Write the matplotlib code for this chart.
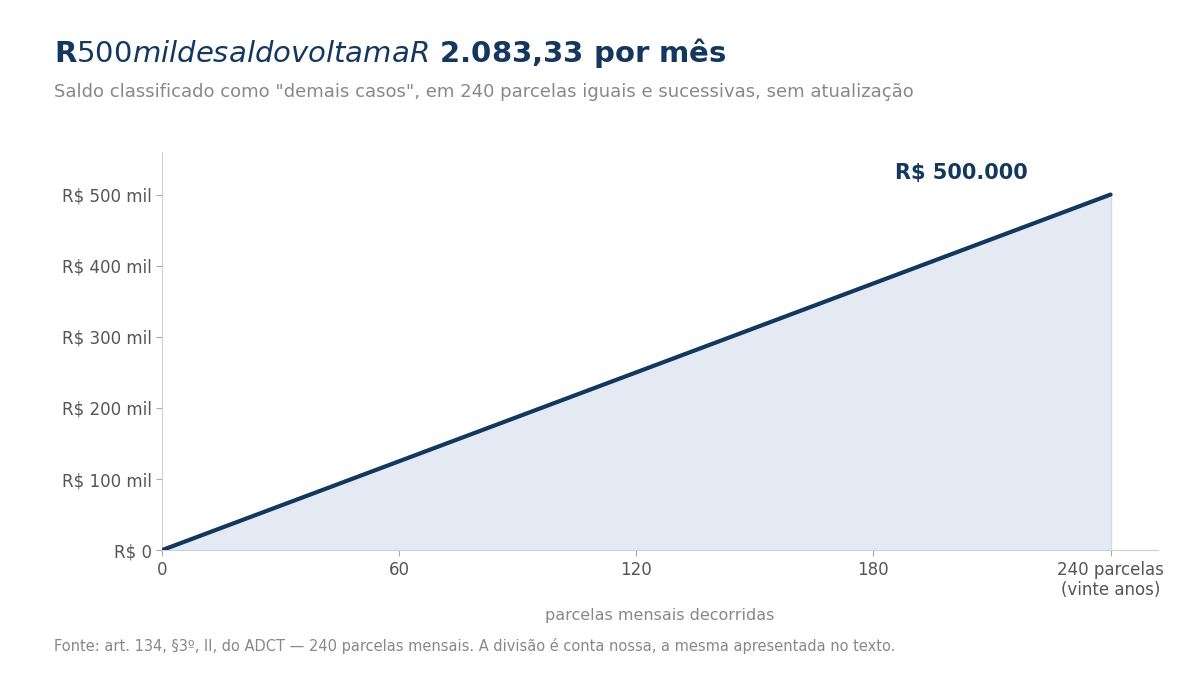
import matplotlib
matplotlib.use("Agg")
import matplotlib.pyplot as plt

parcelas = [0, 240]
saldo = [0, 500000]
xticks = [0, 60, 120, 180, 240]
xticklabels = ["0", "60", "120", "180", "240 parcelas\n(vinte anos)"]
yticks = [0, 100000, 200000, 300000, 400000, 500000]
yticklabels = ["R$ 0", "R$ 100 mil", "R$ 200 mil", "R$ 300 mil", "R$ 400 mil", "R$ 500 mil"]

navy = "#14375e"
fig = plt.figure(figsize=(12, 6.75), dpi=100)
ax = fig.add_axes([0.135, 0.185, 0.83, 0.59])
ax.fill_between(parcelas, saldo, color="#e3eaf3", zorder=1)
ax.plot([240, 240], [0, 500000], color="#d5dbe3", lw=1, zorder=1)
ax.plot(parcelas, saldo, color=navy, lw=3, zorder=3, solid_capstyle="round")
ax.set_xlim(0, 252)
ax.set_ylim(0, 560000)
ax.set_xticks(xticks)
ax.set_xticklabels(xticklabels)
ax.set_yticks(yticks)
ax.set_yticklabels(yticklabels)
ax.tick_params(colors="#555555", labelsize=12, length=4)
ax.tick_params(axis="both", color="#aaaaaa")
for s in ["top", "right"]:
    ax.spines[s].set_visible(False)
for s in ["left", "bottom"]:
    ax.spines[s].set_color("#d0d0d0")
ax.text(219, 530000, "R$ 500.000", color=navy, fontsize=15, fontweight="bold", ha="right", va="center")
ax.set_xlabel("parcelas mensais decorridas", color="#888888", fontsize=11.5, labelpad=6)
fig.text(0.045, 0.922, "R$ 500 mil de saldo voltam a R$ 2.083,33 por mês", fontsize=21, fontweight="bold", color=navy, va="center")
fig.text(0.045, 0.863, 'Saldo classificado como "demais casos", em 240 parcelas iguais e sucessivas, sem atualização', fontsize=13, color="#888888", va="center")
fig.text(0.045, 0.043, "Fonte: art. 134, §3º, II, do ADCT — 240 parcelas mensais. A divisão é conta nossa, a mesma apresentada no texto.", fontsize=10.5, color="#888888", va="center")
fig.savefig("out.png", dpi=100)
